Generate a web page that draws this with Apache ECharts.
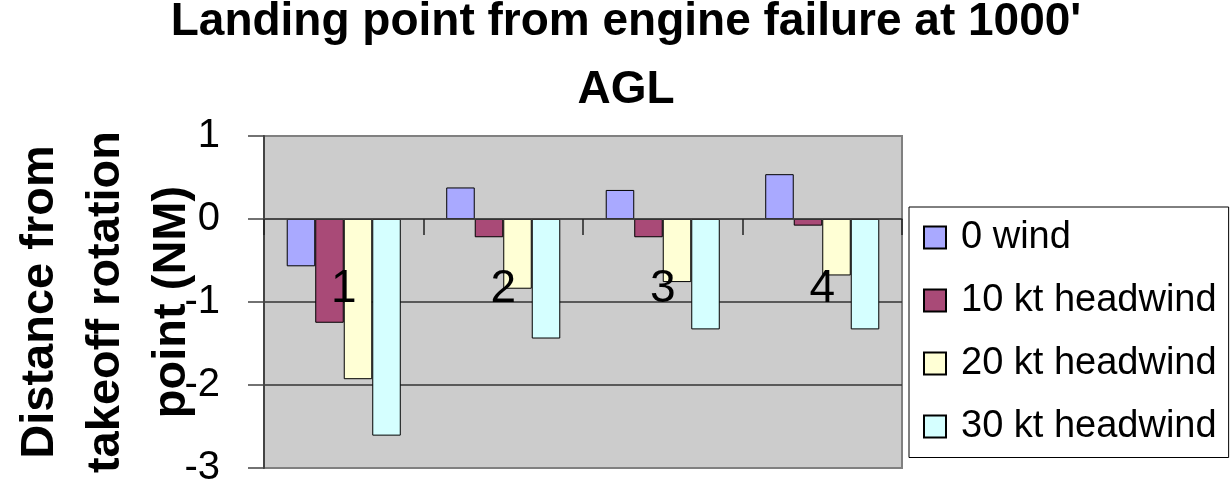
<!DOCTYPE html>
<html>
<head>
<meta charset="utf-8">
<script src="https://cdn.jsdelivr.net/npm/echarts@6/dist/echarts.min.js"></script>
<style>
  html, body { margin: 0; padding: 0; background: #fff; }
  #main { width: 1231px; height: 488px; }
</style>
</head>
<body>
<div id="main"></div>
<script>
// categories and series values (NM)
var categories = ['1', '2', '3', '4'];
var seriesNames = ['0 wind', '10 kt headwind', '20 kt headwind', '30 kt headwind'];
var wind0 = [-0.57, 0.38, 0.35, 0.54];
var wind10 = [-1.25, -0.22, -0.22, -0.08];
var wind20 = [-1.93, -0.84, -0.76, -0.68];
var wind30 = [-2.61, -1.44, -1.33, -1.33];
var colors = ['#A9A9FF', '#A94A77', '#FFFFD5', '#D5FFFF'];
var yMin = -3, yMax = 1;

var font = 'Liberation Sans, Arial, sans-serif';
var chart = echarts.init(document.getElementById('main'));

// plot area box
var gTop = 136, gBottom = 20, gLeft = 264, gRight = 329;
var gHeight = 488 - gTop - gBottom;
// category axis sits on the zero line, like Excel does
var zeroOffset = -gHeight * (0 - yMin) / (yMax - yMin);

function bar(name, data, color) {
  return {
    name: name,
    type: 'bar',
    data: data,
    barGap: '0%',
    barCategoryGap: '28.5%',
    itemStyle: { color: color, borderColor: '#000', borderWidth: 1 }
  };
}

var option = {
  animation: false,
  title: {
    text: "Landing point from engine failure at 1000'\nAGL",
    left: 626,
    top: -12,
    padding: 0,
    textAlign: 'center',
    textStyle: { fontFamily: font, fontSize: 46, fontWeight: 'bold', color: '#000', lineHeight: 68.5 }
  },
  legend: {
    orient: 'vertical',
    left: 909,
    top: 207,
    padding: [11.5, 12, 12, 14],
    itemGap: 25,
    itemWidth: 22,
    itemHeight: 22,
    icon: 'rect',
    borderColor: '#000',
    borderWidth: 1,
    backgroundColor: '#fff',
    textStyle: { fontFamily: font, fontSize: 38, color: '#000', padding: [0, 0, 0, 10] },
    data: seriesNames
  },
  grid: {
    left: gLeft, right: gRight, top: gTop, bottom: gBottom,
    outerBoundsMode: 'none',
    containLabel: false,
    show: true,
    backgroundColor: '#CCCCCC',
    borderColor: '#808080',
    borderWidth: 2
  },
  xAxis: {
    type: 'category',
    data: categories,
    z: 5,
    offset: zeroOffset,
    axisLine: { onZero: false, lineStyle: { color: '#444', width: 1.5 } },
    axisTick: { show: true, length: 16, alignWithLabel: false, lineStyle: { color: '#222', width: 1.5 } },
    axisLabel: { fontFamily: font, fontSize: 46, color: '#000', margin: 47 },
    splitLine: { show: false }
  },
  yAxis: {
    type: 'value',
    min: yMin,
    max: yMax,
    interval: 1,
    name: 'Distance from\ntakeoff rotation\npoint (NM)',
    nameLocation: 'middle',
    nameRotate: 90,
    nameGap: 59,
    nameMoveOverlap: false,
    nameTextStyle: { fontFamily: font, fontSize: 47, fontWeight: 'bold', color: '#000', lineHeight: 66 },
    axisLine: { show: true, lineStyle: { color: '#444', width: 2 } },
    axisTick: { show: true, length: 16, lineStyle: { color: '#444', width: 1.5 } },
    axisLabel: { fontFamily: font, fontSize: 40, color: '#000', margin: 44 },
    splitLine: { show: true, lineStyle: { color: ['#808080', '#333', '#333', '#333', '#808080'], width: 1.5 } }
  },
  series: [
    bar(seriesNames[0], wind0, colors[0]),
    bar(seriesNames[1], wind10, colors[1]),
    bar(seriesNames[2], wind20, colors[2]),
    bar(seriesNames[3], wind30, colors[3])
  ]
};

chart.setOption(option);
</script>
</body>
</html>
